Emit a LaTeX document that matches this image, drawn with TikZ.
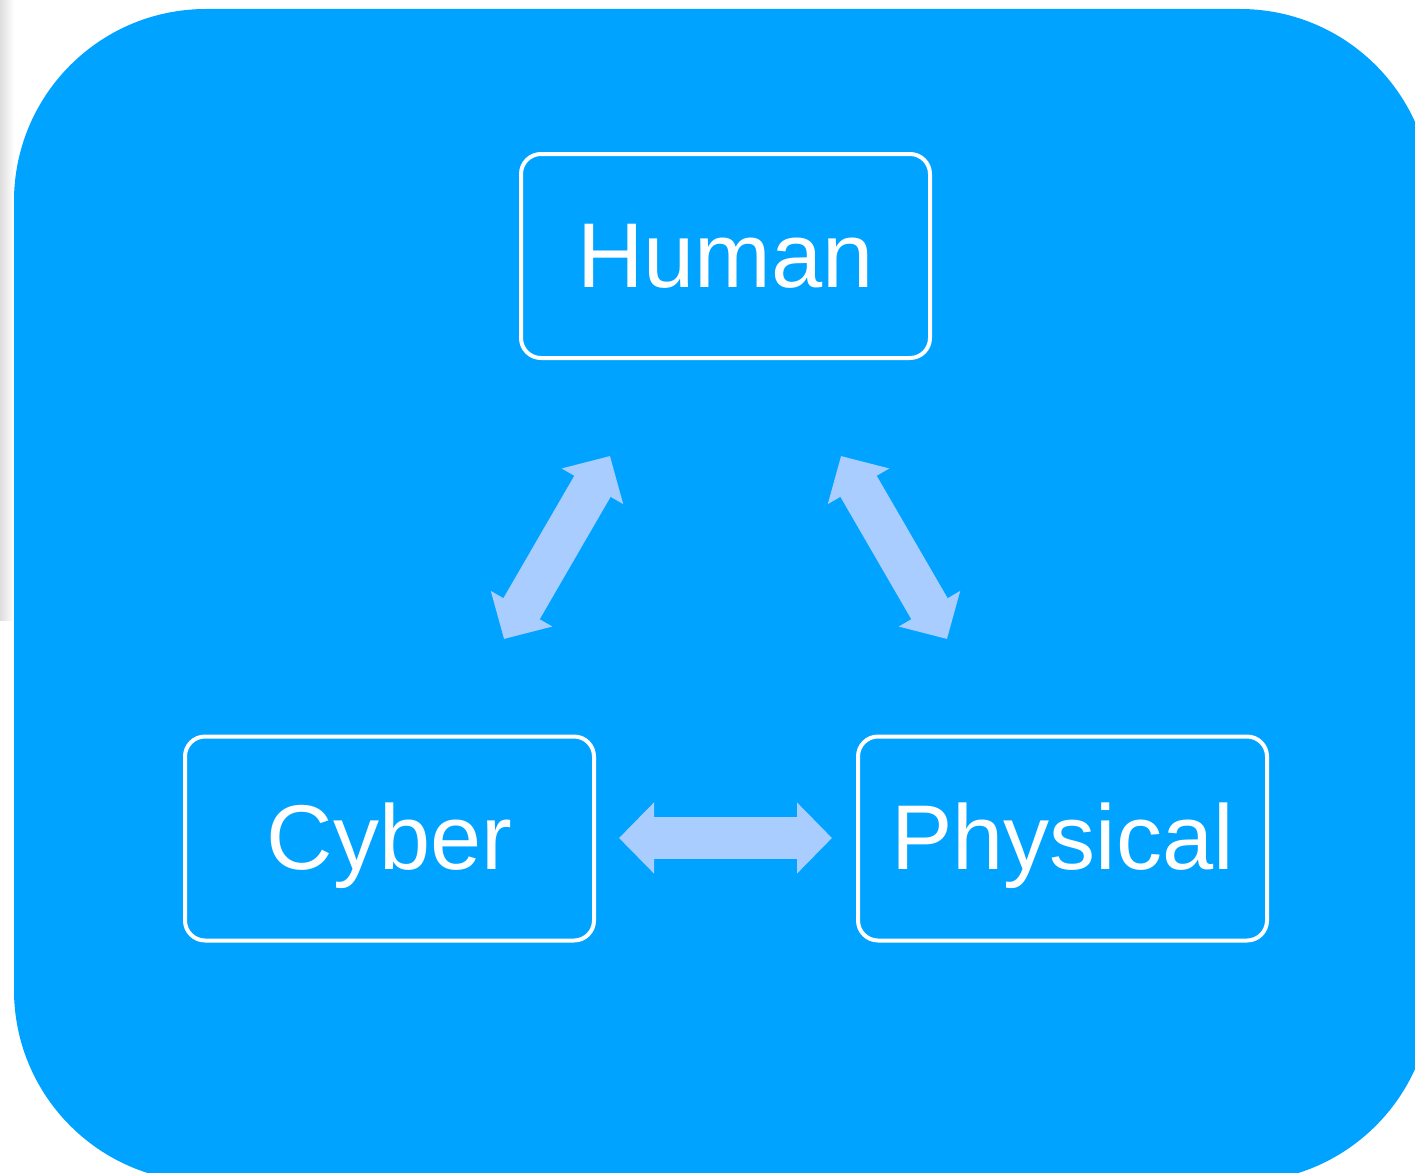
\documentclass[tikz,border=0pt]{standalone}
\usepackage{fontspec}
\setmainfont{Liberation Sans}
\usetikzlibrary{arrows.meta}
\definecolor{panelblue}{HTML}{00A3FF}
\definecolor{linkblue}{HTML}{AACDFF}
\tikzset{
  domainbox/.style={draw=white, line width=4pt, rounded corners=20pt,
    minimum width=409pt, minimum height=204pt, inner sep=0pt},
  domaintext/.style={text=white, font=\fontsize{92}{100}\selectfont,
    text height=69pt, text depth=7pt, inner sep=0pt},
  linkarrow/.style={draw=linkblue, line width=42pt,
    {Triangle[width=69pt,length=35pt]}-{Triangle[width=69pt,length=35pt]}}
}
\begin{document}
\begin{tikzpicture}[x=1pt,y=-1pt]
  \useasboundingbox (0,0) rectangle (1415,1172);
  \fill[white] (0,0) rectangle (1415,1172);
  % soft grey edge on the left
  \shade[left color=black!13, right color=white] (0,0) rectangle (14,620);
  \begin{scope}
    \clip (0,0) rectangle (1415,1172);
    \fill[panelblue, rounded corners=192pt] (14,9) rectangle (1432,1182);
  \end{scope}

  % the three domains
  \node[domainbox] (human) at (725.5,256) {};
  \node[domaintext] (humantext) at (human.center) {Human};
  \node[domainbox] (cyber) at (389.5,838.5) {};
  \node[domaintext] (cybertext) at (cyber.center) {Cyber};
  \node[domainbox] (physical) at (1062.5,838.5) {};
  \node[domaintext] (physicaltext) at (physical.center) {Physical};

  % interaction arrows between the domains
  \coordinate (hc1) at (504,639);
  \coordinate (hc2) at (610,456);
  \coordinate (hp1) at (841,456);
  \coordinate (hp2) at (947,639);
  \coordinate (cp1) at (619,838);
  \coordinate (cp2) at (832,838);
  \draw[linkarrow] (hc1) -- (hc2);
  \draw[linkarrow] (hp1) -- (hp2);
  \draw[linkarrow] (cp1) -- (cp2);
\end{tikzpicture}
\end{document}
